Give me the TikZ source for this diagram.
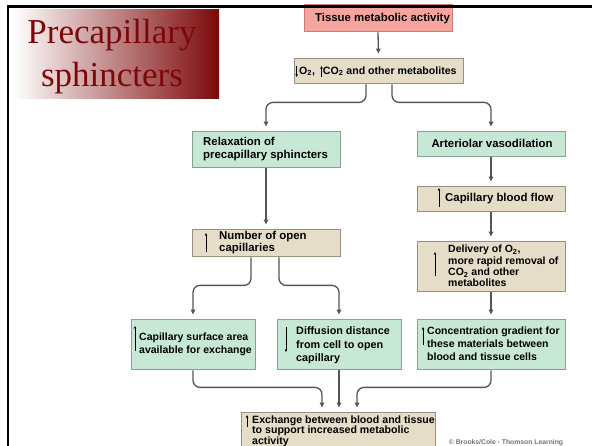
\documentclass[tikz,border=0pt]{standalone}
\usepackage{fontspec}
\setmainfont{Liberation Sans}
\newfontfamily\titlefont{Liberation Serif}
\usetikzlibrary{arrows.meta,shadows}
\definecolor{pinkf}{RGB}{245,165,158}
\definecolor{pinkd}{RGB}{205,125,118}
\definecolor{tanf}{RGB}{229,221,200}
\definecolor{tand}{RGB}{150,145,130}
\definecolor{grnf}{RGB}{200,232,214}
\definecolor{grnd}{RGB}{135,160,148}
\definecolor{conncol}{RGB}{85,85,85}
\definecolor{titlered}{RGB}{125,8,10}
\definecolor{titlemid}{RGB}{200,168,168}
\begin{document}
\begin{tikzpicture}[x=1pt,y=-1pt,
  box/.style={draw, line width=0.8pt, inner sep=0pt,
    general shadow={fill=black!15, shadow xshift=1.2pt, shadow yshift=-1.2pt}},
  pinkbox/.style={box, fill=pinkf, draw=pinkd},
  tanbox/.style={box, fill=tanf, draw=tand},
  grnbox/.style={box, fill=grnf, draw=grnd},
  txt/.style={inner sep=0pt, align=left, font=\fontsize{10.5}{13}\selectfont\bfseries},
  bigtxt/.style={inner sep=0pt, align=left, font=\fontsize{11.4}{13}\selectfont\bfseries},
  conn/.style={draw=conncol, line width=1.3pt, rounded corners=7pt,
    -{Triangle[length=5pt,width=4.5pt]}, shorten >=4pt, shorten <=1pt},
  uarr/.style={line width=0.7pt, -{Stealth[length=3pt,width=2.6pt]}},
  titletxt/.style={font=\titlefont\fontsize{35}{40}\selectfont, text=titlered, anchor=base, inner sep=0pt}
]
\useasboundingbox (0,0) rectangle (592,446);
\fill[white] (0,0) rectangle (592,446);

% title
\shade[left color=white, middle color=titlemid, right color=titlered] (13,10) rectangle (219,99);
\node[titletxt] (title1) at (112,44) {Precapillary};
\node[titletxt] (title2) at (112,87) {sphincters};

% boxes
\node[pinkbox, minimum width=148pt, minimum height=27pt] (tma) at (378,17.5) {};
\node[bigtxt] (tmat) at (382.5,18.5) {Tissue metabolic activity};

\node[tanbox, minimum width=169pt, minimum height=25pt] (o2) at (378.5,70.5) {};
\node[txt, anchor=west, font=\fontsize{10.6}{13}\selectfont\bfseries] (o2t) at (299,71) {O\textsubscript{2}, \hspace{5pt}CO\textsubscript{2} and other metabolites};

\node[grnbox, minimum width=148pt, minimum height=36pt] (relax) at (266,149) {};
\node[bigtxt, anchor=west] (relaxt) at (203,149) {Relaxation of\\precapillary sphincters};

\node[grnbox, minimum width=148pt, minimum height=25pt] (art) at (491,143.5) {};
\node[bigtxt] (artt) at (492,143.5) {Arteriolar vasodilation};

\node[tanbox, minimum width=148pt, minimum height=25pt] (cbf) at (491,198.5) {};
\node[bigtxt, anchor=west] (cbft) at (445,198.5) {Capillary blood flow};

\node[tanbox, minimum width=148pt, minimum height=27pt] (num) at (266,242.5) {};
\node[bigtxt, anchor=west, font=\fontsize{11.4}{11.5}\selectfont\bfseries] (numt) at (219,242.5) {Number of open\\capillaries};

\node[tanbox, minimum width=148pt, minimum height=50pt] (deliv) at (491,266) {};
\node[txt, anchor=west, font=\fontsize{10.5}{11.3}\selectfont\bfseries] (delivt) at (448,266) {Delivery of O\textsubscript{2},\\more rapid removal of\\CO\textsubscript{2} and other\\metabolites};

\node[grnbox, minimum width=124pt, minimum height=50pt] (csa) at (193,344) {};
\node[txt, anchor=west] (csat) at (139,344) {Capillary surface area\\available for exchange};

\node[grnbox, minimum width=124pt, minimum height=50pt] (diff) at (339,344) {};
\node[txt, anchor=west, font=\fontsize{10.8}{13.5}\selectfont\bfseries] (difft) at (296,345.5) {Diffusion distance\\from cell to open\\capillary};

\node[grnbox, minimum width=148pt, minimum height=50pt] (conc) at (491,344) {};
\node[txt, anchor=west] (conct) at (427,344) {Concentration gradient for\\these materials between\\blood and tissue cells};

\node[tanbox, minimum width=194pt, minimum height=48pt] (exch) at (338,436) {};
\node[txt, anchor=west, font=\fontsize{10.6}{10.6}\selectfont\bfseries] (excht) at (252,431) {Exchange between blood and tissue\\to support increased metabolic\\activity};

% up / down marks
\draw[uarr] (296.7,66) -- (296.7,77);
\draw[uarr] (321.5,77) -- (321.5,66);
\draw[uarr] (439,207) -- (439,188);
\draw[uarr] (206,252) -- (206,233);
\draw[uarr] (435,276) -- (435,252);
\draw[uarr] (135,351) -- (135,326);
\draw[uarr] (286,327) -- (286,352);
\draw[uarr] (423,345) -- (423,327);
\draw[uarr] (247,427) -- (247,415);

% connectors
\draw[conn] (tma.south) -- (o2.north);
\draw[conn] ([xshift=-12.5pt]o2.south) -- ++(0,19) -| (relax.north);
\draw[conn] ([xshift=13.5pt]o2.south) -- ++(0,19) -| (art.north);
\draw[conn] (relax.south) -- (num.north);
\draw[conn] (art.south) -- (cbf.north);
\draw[conn] (cbf.south) -- (deliv.north);
\draw[conn] (deliv.south) -- (conc.north);
\draw[conn] ([xshift=-15pt]num.south) -- ++(0,29) -| (csa.north);
\draw[conn] ([xshift=13pt]num.south) -- ++(0,29) -| (diff.north);
\draw[conn] (csa.south) -- ++(0,18) -| ([xshift=-16pt]exch.north);
\draw[conn] (diff.south) -- (diff.south |- exch.north);
\draw[conn] (conc.south) -- ++(0,18) -| ([xshift=19pt]exch.north);

\node[inner sep=0pt, font=\fontsize{6.8}{7}\selectfont\bfseries, text=black!55] (copy) at (506,443) {© Brooks/Cole - Thomson Learning};

% frame
\draw[line width=2.6pt, line join=miter] (8,446) -- (8,6.5) -- (592,6.5);
\end{tikzpicture}
\end{document}
